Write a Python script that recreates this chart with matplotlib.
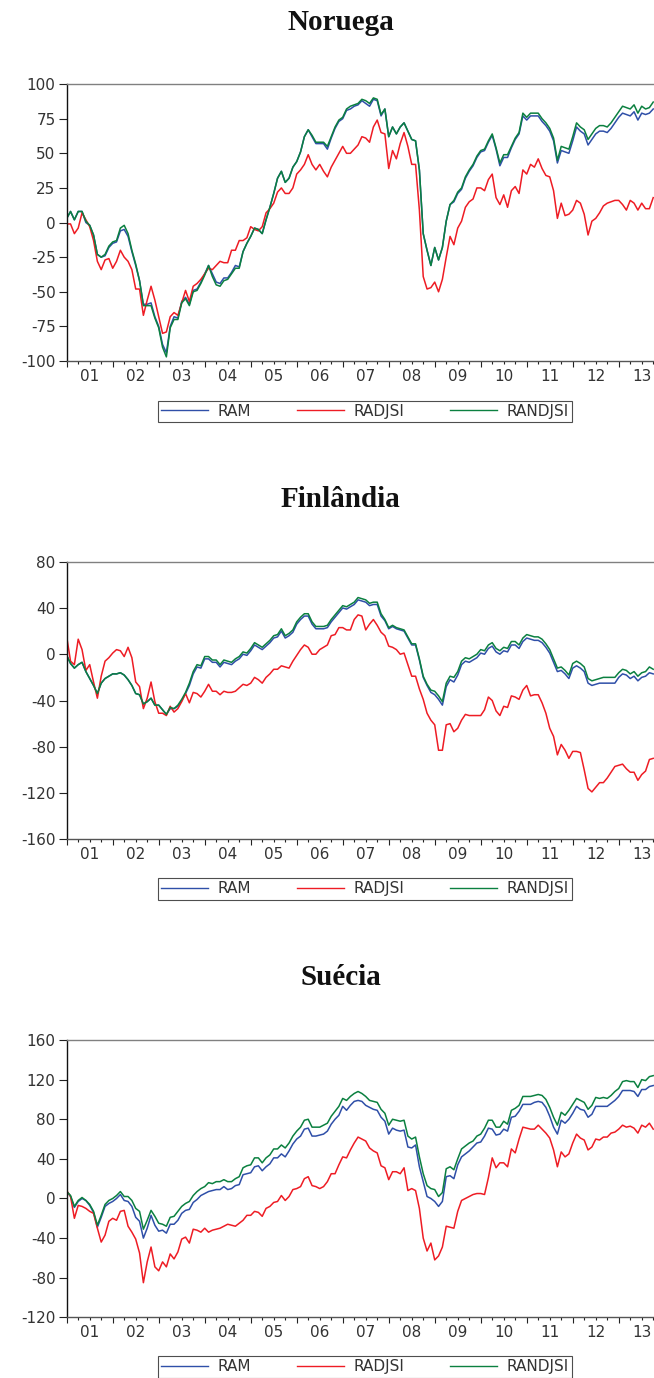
import numpy as np
import matplotlib
matplotlib.use("Agg")
import matplotlib.pyplot as plt
from matplotlib.lines import Line2D

# ----------------------------------
# Data (monthly, Jan 2001 onwards)
# ----------------------------------
year_labels = ["01", "02", "03", "04", "05", "06", "07", "08", "09", "10", "11", "12", "13"]
series_names = ["RAM", "RADJSI", "RANDJSI"]

# Noruega
nor_ram = [
    3, 8, 2, 8, 8, 0, -2, -9, -23, -25, -24, -18,
    -15, -14, -6, -5, -10, -21, -31, -42, -59, -59, -58, -68,
    -75, -88, -94, -75, -68, -69, -57, -54, -59, -49, -48, -43,
    -37, -31, -37, -43, -44, -40, -40, -36, -31, -32, -21, -15,
    -10, -4, -5, -8, 2, 11, 21, 32, 37, 29, 32, 40,
    44, 51, 62, 67, 62, 57, 57, 57, 53, 61, 68, 73,
    75, 81, 82, 84, 85, 88, 86, 84, 89, 88, 77, 82,
    62, 69, 64, 69, 72, 66, 60, 59, 38, -8, -20, -31,
    -18, -27, -18, 1, 13, 15, 21, 24, 32, 37, 41, 47,
    51, 52, 58, 63, 53, 41, 47, 47, 54, 60, 64, 77,
    74, 77, 77, 77, 73, 70, 66, 59, 43, 52, 51, 50,
    59, 69, 66, 64, 56, 60, 64, 66, 66, 65, 68, 72,
    76, 79, 78, 77, 80, 74, 79, 78, 79, 82,
]
nor_radjsi = [
    -1, -1, -8, -4, 7, 2, -3, -13, -28, -34, -27, -26,
    -33, -28, -20, -25, -28, -34, -48, -48, -67, -56, -46, -56,
    -68, -80, -79, -68, -65, -67, -58, -49, -57, -46, -44, -41,
    -37, -33, -34, -31, -28, -29, -29, -20, -20, -13, -13, -11,
    -3, -5, -6, -3, 7, 10, 14, 22, 25, 21, 21, 25,
    35, 38, 42, 49, 42, 38, 42, 37, 33, 40, 45, 50,
    55, 50, 50, 53, 56, 62, 61, 58, 69, 74, 65, 64,
    39, 52, 46, 57, 65, 55, 42, 42, 9, -39, -48, -47,
    -43, -50, -41, -25, -10, -16, -4, 1, 11, 15, 17, 25,
    25, 23, 31, 35, 18, 13, 20, 11, 23, 26, 21, 38,
    35, 42, 40, 46, 39, 34, 33, 23, 3, 14, 5, 6,
    9, 16, 14, 6, -9, 1, 3, 7, 12, 14, 15, 16,
    16, 13, 9, 16, 14, 9, 14, 10, 10, 18,
]
nor_randjsi = [
    3, 8, 2, 8, 8, 1, -2, -9, -23, -25, -23, -17,
    -14, -13, -4, -2, -8, -20, -30, -42, -60, -60, -60, -69,
    -76, -90, -97, -76, -70, -70, -58, -55, -60, -50, -49, -44,
    -38, -31, -39, -45, -46, -42, -41, -37, -33, -33, -21, -15,
    -10, -4, -5, -8, 2, 11, 21, 32, 37, 29, 32, 40,
    44, 51, 62, 67, 63, 58, 58, 58, 55, 62, 69, 74,
    76, 82, 84, 85, 86, 89, 88, 86, 90, 89, 78, 82,
    62, 69, 64, 69, 72, 66, 60, 59, 38, -8, -20, -31,
    -18, -27, -18, 1, 13, 16, 22, 25, 33, 38, 42, 48,
    52, 53, 59, 64, 54, 43, 49, 49, 55, 61, 65, 79,
    76, 79, 79, 79, 75, 72, 68, 61, 45, 55, 54, 53,
    62, 72, 69, 67, 60, 64, 68, 70, 70, 69, 72, 76,
    80, 84, 83, 82, 85, 79, 84, 82, 83, 87,
]

# Finlândia
fin_ram = [
    -1, -8, -12, -9, -7, -15, -21, -27, -34, -25, -21, -19,
    -17, -17, -16, -18, -22, -27, -34, -35, -43, -41, -38, -44,
    -44, -48, -52, -47, -47, -45, -40, -34, -27, -17, -11, -12,
    -4, -4, -7, -7, -11, -7, -8, -9, -6, -4, 0, -1,
    3, 8, 6, 4, 7, 10, 14, 15, 20, 14, 16, 19,
    26, 30, 33, 33, 26, 22, 22, 22, 23, 28, 32, 36,
    40, 39, 41, 43, 47, 46, 45, 42, 43, 43, 33, 29,
    22, 24, 22, 21, 20, 14, 8, 8, -5, -20, -27, -33,
    -35, -39, -44, -28, -22, -24, -18, -9, -6, -7, -5, -3,
    1, 0, 5, 7, 2, 0, 3, 2, 8, 8, 5, 11,
    14, 13, 12, 12, 10, 6, 1, -7, -15, -14, -17, -21,
    -12, -10, -12, -15, -25, -27, -26, -25, -25, -25, -25, -25,
    -20, -17, -18, -21, -19, -23, -20, -19, -16, -17,
]
fin_radjsi = [
    15, -6, -9, 13, 4, -14, -9, -24, -38, -19, -6, -3,
    1, 4, 3, -2, 6, -3, -24, -28, -47, -38, -24, -41,
    -51, -51, -53, -45, -50, -47, -41, -34, -42, -33, -34, -37,
    -32, -26, -32, -32, -35, -32, -33, -33, -32, -29, -26, -27,
    -25, -20, -22, -25, -20, -17, -13, -13, -10, -11, -12, -6,
    -1, 4, 8, 6, 0, 0, 4, 6, 8, 16, 17, 23,
    23, 21, 21, 30, 34, 33, 21, 26, 30, 25, 19, 16,
    7, 6, 4, 0, 1, -9, -19, -19, -30, -39, -51, -57,
    -61, -83, -83, -61, -60, -67, -64, -57, -52, -53, -53, -53,
    -53, -48, -37, -40, -49, -53, -45, -46, -36, -37, -39, -31,
    -27, -36, -35, -35, -42, -51, -64, -71, -87, -78, -83, -90,
    -84, -84, -85, -100, -116, -119, -115, -111, -111, -107, -102, -97,
    -96, -95, -99, -102, -102, -109, -104, -101, -91, -90,
]
fin_randjsi = [
    -1, -8, -12, -9, -7, -15, -21, -27, -34, -25, -21, -19,
    -17, -17, -16, -18, -22, -27, -34, -35, -43, -41, -38, -44,
    -44, -48, -52, -46, -47, -44, -39, -33, -25, -15, -9, -10,
    -2, -2, -5, -5, -9, -5, -6, -7, -4, -2, 2, 1,
    5, 10, 8, 6, 9, 12, 16, 17, 22, 16, 18, 21,
    28, 32, 35, 35, 28, 24, 24, 24, 25, 30, 34, 38,
    42, 41, 43, 45, 49, 48, 47, 44, 45, 45, 35, 30,
    23, 25, 23, 22, 21, 15, 9, 9, -4, -19, -26, -31,
    -32, -36, -41, -25, -19, -20, -15, -6, -3, -4, -2, 0,
    4, 3, 8, 10, 5, 3, 6, 5, 11, 11, 8, 14,
    17, 16, 15, 15, 13, 9, 4, -4, -12, -11, -14, -18,
    -8, -6, -8, -11, -21, -23, -22, -21, -20, -20, -20, -20,
    -16, -13, -14, -17, -15, -19, -16, -15, -11, -13,
]

# Suécia
swe_ram = [
    7, 2, -9, -3, 0, -2, -7, -14, -29, -19, -8, -5,
    -3, 0, 4, -2, -3, -8, -19, -23, -40, -30, -17, -27,
    -33, -32, -35, -26, -26, -22, -15, -12, -11, -4, -1, 3,
    5, 7, 8, 9, 9, 12, 9, 10, 13, 14, 24, 25,
    26, 32, 33, 28, 32, 35, 41, 41, 45, 42, 48, 55,
    60, 63, 70, 71, 63, 63, 64, 65, 68, 75, 80, 84,
    93, 89, 94, 98, 99, 98, 94, 92, 90, 89, 82, 78,
    65, 71, 69, 68, 69, 52, 51, 54, 32, 17, 2, 0,
    -3, -8, -3, 22, 23, 20, 34, 42, 45, 48, 52, 56,
    57, 63, 71, 70, 64, 65, 70, 68, 82, 83, 88, 95,
    95, 95, 97, 98, 97, 92, 83, 72, 65, 79, 76, 80,
    86, 93, 90, 89, 82, 85, 93, 93, 93, 93, 96, 99,
    103, 109, 109, 109, 108, 103, 110, 110, 113, 114,
]
swe_radjsi = [
    8, 2, -20, -7, -8, -10, -13, -15, -30, -44, -37, -23,
    -20, -22, -13, -12, -28, -34, -41, -55, -85, -64, -49, -69,
    -73, -64, -69, -56, -61, -54, -41, -39, -45, -31, -32, -34,
    -30, -34, -32, -31, -30, -28, -26, -27, -28, -25, -22, -17,
    -17, -13, -14, -18, -10, -8, -4, -3, 3, -2, 2, 9,
    10, 12, 20, 22, 13, 12, 10, 12, 17, 25, 25, 34,
    42, 41, 49, 56, 62, 60, 58, 51, 48, 46, 33, 31,
    19, 27, 27, 25, 31, 8, 10, 8, -10, -40, -53, -45,
    -62, -58, -49, -28, -29, -30, -13, -2, 0, 2, 4, 5,
    5, 4, 21, 41, 31, 36, 36, 32, 50, 46, 60, 72,
    71, 70, 70, 74, 70, 66, 61, 49, 32, 47, 42, 45,
    56, 65, 61, 59, 49, 52, 60, 59, 62, 62, 66, 67,
    70, 74, 72, 73, 71, 66, 74, 72, 76, 70,
]
swe_randjsi = [
    7, 3, -8, -2, 1, -2, -6, -13, -27, -17, -6, -2,
    0, 3, 7, 2, 2, -2, -10, -13, -31, -22, -12, -18,
    -25, -26, -28, -19, -18, -13, -8, -5, -3, 3, 7, 10,
    12, 16, 15, 17, 17, 19, 17, 17, 20, 22, 31, 33,
    34, 41, 41, 36, 41, 44, 50, 50, 54, 51, 56, 63,
    68, 72, 79, 80, 72, 72, 72, 74, 76, 83, 88, 93,
    101, 99, 103, 106, 108, 106, 103, 99, 98, 97, 90, 86,
    74, 80, 79, 78, 79, 63, 60, 62, 42, 25, 13, 10,
    9, 2, 6, 30, 32, 29, 40, 50, 53, 56, 58, 63,
    65, 71, 79, 79, 72, 72, 78, 75, 89, 91, 94, 103,
    103, 103, 104, 105, 104, 100, 92, 82, 74, 87, 84, 89,
    95, 101, 99, 97, 90, 94, 102, 101, 102, 101, 104, 108,
    111, 118, 119, 118, 118, 112, 120, 119, 123, 124,
]

nor_yticks = [100, 75, 50, 25, 0, -25, -50, -75, -100]
fin_yticks = [80, 40, 0, -40, -80, -120, -160]
swe_yticks = [160, 120, 80, 40, 0, -40, -80, -120]

# ----------------------------------
# Figure layout
# ----------------------------------
colors = ["#2f4fa8", "#ee1c24", "#0b8040"]
tick_color = "#333333"

fig = plt.figure(figsize=(6.54, 13.78), dpi=100)

panels = [
    ("Noruega", [nor_ram, nor_radjsi, nor_randjsi], nor_yticks,
     [0.102, 0.738, 0.9144, 0.201], 0.984, 0.7017),
    ("Finlândia", [fin_ram, fin_radjsi, fin_randjsi], fin_yticks,
     [0.102, 0.3909, 0.9144, 0.2015], 0.6372, 0.3549),
    ("Suécia", [swe_ram, swe_radjsi, swe_randjsi], swe_yticks,
     [0.102, 0.0440, 0.9144, 0.2013], 0.2903, 0.0080),
]

for title, series, yticks, pos, title_y, leg_y in panels:
    ax = fig.add_axes(pos)

    for vals, col in zip(series, colors):
        x = 2001 + np.arange(len(vals)) / 12.0
        ax.plot(x, vals, color=col, lw=1.1)

    ax.set_xlim(2001, 2014)
    ax.set_ylim(min(yticks), max(yticks))
    ax.set_yticks(yticks)
    ax.set_yticklabels([str(v) for v in yticks])

    # year boundaries (long ticks), quarters (short ticks), labels mid-year
    ax.set_xticks(range(2001, 2015))
    ax.set_xticklabels([])
    ax.set_xticks(np.arange(2001, 2014.01, 0.25), minor=True)
    ax.tick_params(axis="x", which="major", direction="out", length=4.5, width=0.8, color="#222222")
    ax.tick_params(axis="x", which="minor", direction="out", length=2.5, width=0.8, color="#222222")
    ax.tick_params(axis="y", direction="out", length=6, width=0.8, pad=2,
                   labelsize=11, labelcolor=tick_color, color="#222222")

    for i, lab in enumerate(year_labels):
        ax.annotate(lab, xy=(2001.5 + i, 0), xycoords=("data", "axes fraction"),
                    xytext=(0, -5.5), textcoords="offset points",
                    ha="center", va="top", fontsize=11, color=tick_color)

    ax.spines["left"].set_color("#111111")
    ax.spines["bottom"].set_color("#555555")
    ax.spines["top"].set_color("#808080")
    ax.spines["right"].set_color("#808080")
    for s in ax.spines.values():
        s.set_linewidth(1.0)

    fig.text(0.521, title_y, title, ha="center", va="center", fontsize=21,
             fontweight="bold", family="Liberation Serif", color="#111111")

    handles = [Line2D([], [], color=c, lw=1.0) for c in colors]
    leg = ax.legend(handles, series_names, loc="center", bbox_to_anchor=(0.558, leg_y),
                    bbox_transform=fig.transFigure, ncol=3, frameon=True, fancybox=False,
                    edgecolor="#222222", fontsize=11, handlelength=3.1, handletextpad=0.6,
                    columnspacing=3.0, borderpad=0.2, borderaxespad=0)
    leg.get_frame().set_linewidth(0.8)
    for t in leg.get_texts():
        t.set_color(tick_color)

fig.savefig("out.png", dpi=100)
